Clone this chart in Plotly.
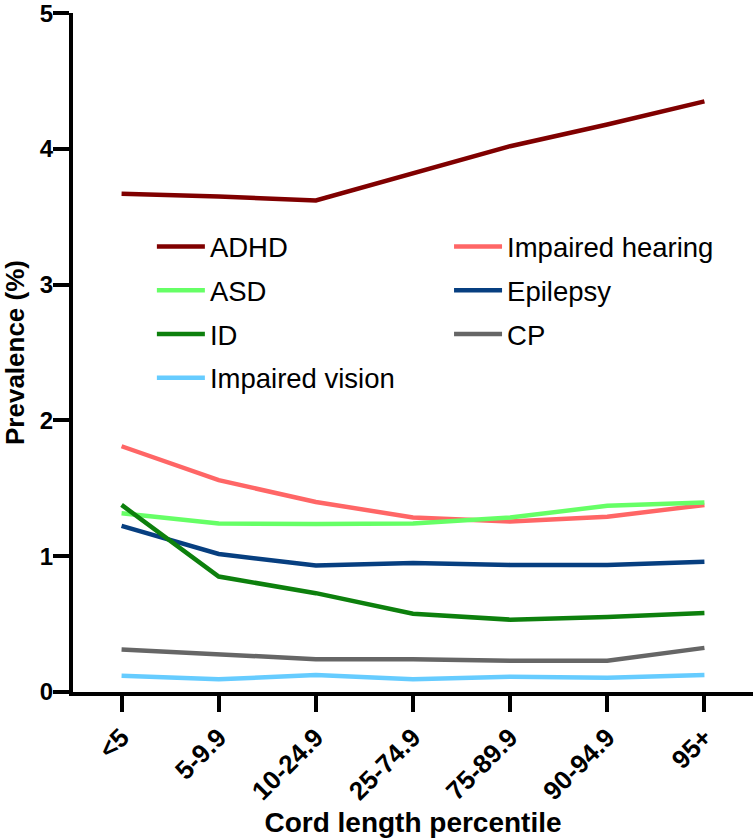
import plotly.graph_objects as go

categories = ["<5", "5-9.9", "10-24.9", "25-74.9", "75-89.9", "90-94.9", "95+"]
adhd = [3.67, 3.65, 3.62, 3.82, 4.02, 4.18, 4.35]
hearing = [1.81, 1.56, 1.40, 1.285, 1.256, 1.29, 1.378]
asd = [1.317, 1.241, 1.237, 1.241, 1.285, 1.371, 1.395]
epilepsy = [1.224, 1.017, 0.931, 0.951, 0.936, 0.936, 0.96]
id_ = [1.378, 0.85, 0.728, 0.577, 0.533, 0.552, 0.581]
cp = [0.313, 0.276, 0.242, 0.242, 0.23, 0.23, 0.325]
vision = [0.12, 0.093, 0.125, 0.093, 0.112, 0.105, 0.125]
y_ticks = [0, 1, 2, 3, 4, 5]

series = [
    ("ADHD", adhd, "#800000", "legend"),
    ("Impaired hearing", hearing, "#ff6666", "legend2"),
    ("ASD", asd, "#66ff66", "legend"),
    ("Epilepsy", epilepsy, "#073f80", "legend2"),
    ("ID", id_, "#0d800d", "legend"),
    ("CP", cp, "#666666", "legend2"),
    ("Impaired vision", vision, "#66ccff", "legend"),
]

FONT = "Liberation Sans, Arial, Helvetica, sans-serif"

fig = go.Figure()
for name, vals, color, lg in series:
    fig.add_trace(go.Scatter(
        x=categories, y=vals, mode="lines", name=name,
        line=dict(color=color, width=4.5),
        legend=lg, legendgroup=name,
    ))

legend_common = dict(
    font=dict(family=FONT, size=27.5, color="black"),
    bgcolor="rgba(0,0,0,0)",
    tracegroupgap=5,
    xanchor="left", yanchor="top",
    itemwidth=48,
)

fig.update_layout(
    width=756, height=839,
    margin=dict(l=73, r=3, t=13, b=147),
    plot_bgcolor="white", paper_bgcolor="white",
    showlegend=True,
    legend=dict(x=0.116, y=0.692, **legend_common),
    legend2=dict(x=0.553, y=0.692, **legend_common),
    xaxis=dict(
        type="category", range=[-0.5, 6.5], automargin=False,
        showline=True, linecolor="black", linewidth=4,
        ticks="outside", ticklen=16, tickwidth=4, tickcolor="black",
        tickangle=-45, showgrid=False, zeroline=False,
        tickfont=dict(family=FONT, size=26, color="black", weight="bold"),
        title=dict(text="Cord length percentile", standoff=8,
                   font=dict(family=FONT, size=28, color="black", weight="bold")),
    ),
    yaxis=dict(
        range=[0, 5.001], tickvals=y_ticks, automargin=False,
        showline=True, linecolor="black", linewidth=4,
        ticks="outside", ticklen=16, tickwidth=4, tickcolor="black",
        showgrid=False, zeroline=False, ticklabelstandoff=-5,
        ticklabeloverflow="allow",
        tickfont=dict(family=FONT, size=24, color="black", weight="bold"),
        title=dict(text="Prevalence (%)", standoff=13,
                   font=dict(family=FONT, size=26, color="black", weight="bold")),
    ),
)

fig.write_html("out.html")
